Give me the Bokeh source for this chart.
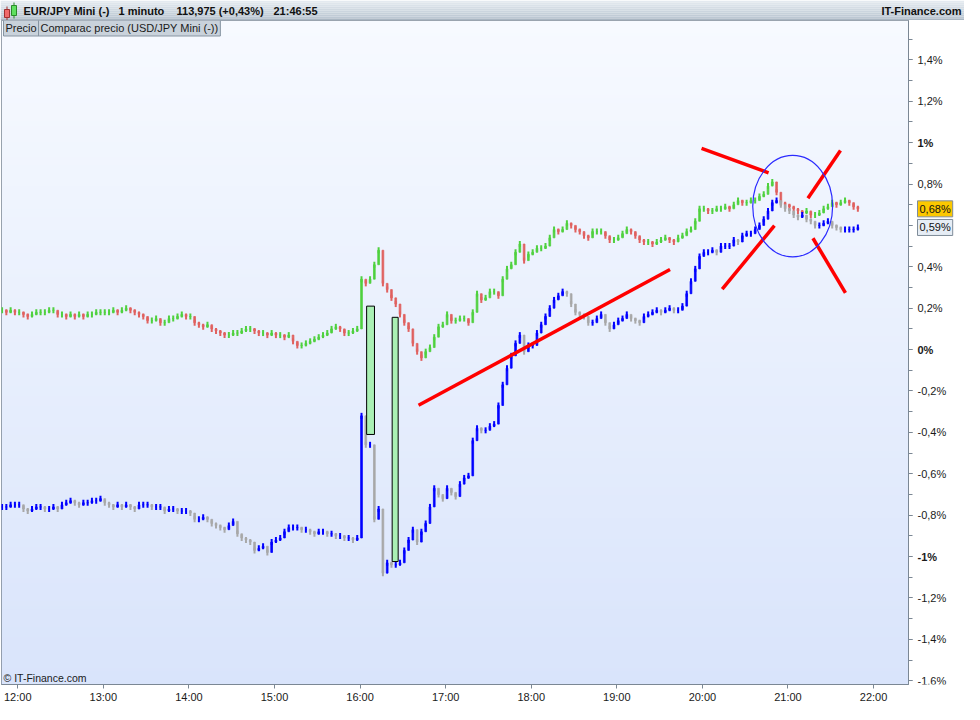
import math
import numpy as np
from bokeh.plotting import figure
from bokeh.layouts import column, row
from bokeh.models import (Range1d, FixedTicker, CustomJSTickFormatter, Label,
                          ColumnDataSource)
from bokeh.core.properties import value
from bokeh.embed import file_html
from bokeh.resources import INLINE

# ---------------- data ----------------
# 3-minute bars, minutes after 12:00 of the first bar
BAR_START_MIN = -11
BAR_STEP_MIN = 3

# EUR/JPY Mini, % change (closes of consecutive bars)
eur_jpy_pct = [
    0.19, 0.18, 0.19, 0.18, 0.18, 0.17, 0.16, 0.17, 0.18, 0.18,
    0.18, 0.19, 0.19, 0.17, 0.17, 0.16, 0.17, 0.16, 0.17, 0.16,
    0.17, 0.17, 0.18, 0.18, 0.18, 0.18, 0.19, 0.18, 0.19, 0.20,
    0.19, 0.18, 0.17, 0.16, 0.14, 0.14, 0.15, 0.13, 0.13, 0.15,
    0.15, 0.16, 0.17, 0.16, 0.16, 0.13, 0.12, 0.11, 0.12, 0.10,
    0.09, 0.08, 0.07, 0.07, 0.08, 0.08, 0.09, 0.10, 0.10, 0.09,
    0.08, 0.08, 0.07, 0.08, 0.07, 0.07, 0.06, 0.07, 0.04, 0.02,
    0.02, 0.03, 0.04, 0.05, 0.06, 0.07, 0.08, 0.10, 0.11, 0.10,
    0.08, 0.08, 0.09, 0.10, 0.34, 0.32, 0.34, 0.41, 0.48, 0.32,
    0.29, 0.25, 0.22, 0.17, 0.13, 0.10, 0.03, -0.01, -0.04, -0.01,
    0.01, 0.06, 0.11, 0.12, 0.17, 0.14, 0.14, 0.15, 0.15, 0.13,
    0.18, 0.27, 0.24, 0.25, 0.28, 0.28, 0.26, 0.34, 0.39, 0.41,
    0.47, 0.51, 0.43, 0.46, 0.47, 0.49, 0.49, 0.50, 0.54, 0.58,
    0.57, 0.58, 0.61, 0.60, 0.58, 0.57, 0.55, 0.54, 0.57, 0.57,
    0.57, 0.55, 0.53, 0.53, 0.54, 0.56, 0.58, 0.57, 0.55, 0.53,
    0.52, 0.52, 0.51, 0.52, 0.53, 0.54, 0.53, 0.52, 0.54, 0.55,
    0.57, 0.58, 0.62, 0.68, 0.68, 0.67, 0.67, 0.68, 0.68, 0.69,
    0.68, 0.70, 0.72, 0.71, 0.71, 0.72, 0.72, 0.74, 0.75, 0.79,
    0.81, 0.76, 0.71, 0.70, 0.69, 0.68, 0.67, 0.66, 0.67, 0.65,
    0.65, 0.66, 0.68, 0.69, 0.71, 0.70, 0.71, 0.72, 0.71, 0.69,
    0.68,
]

# USD/JPY Mini (comparison), % change
usd_jpy_pct = [
    -0.76, -0.76, -0.75, -0.75, -0.75, -0.77, -0.78, -0.77, -0.76, -0.76,
    -0.77, -0.77, -0.76, -0.77, -0.75, -0.74, -0.73, -0.74, -0.75, -0.74,
    -0.74, -0.73, -0.73, -0.72, -0.74, -0.75, -0.76, -0.75, -0.76, -0.75,
    -0.76, -0.77, -0.75, -0.75, -0.75, -0.76, -0.76, -0.76, -0.78, -0.77,
    -0.77, -0.78, -0.78, -0.78, -0.79, -0.82, -0.82, -0.81, -0.82, -0.84,
    -0.85, -0.86, -0.87, -0.85, -0.83, -0.89, -0.91, -0.92, -0.93, -0.97,
    -0.96, -0.95, -0.98, -0.93, -0.92, -0.91, -0.88, -0.86, -0.86, -0.86,
    -0.87, -0.87, -0.88, -0.89, -0.88, -0.88, -0.89, -0.89, -0.90, -0.90,
    -0.91, -0.91, -0.92, -0.91, -0.32, -0.46, -0.46, -0.82, -0.77, -1.08,
    -1.03, -1.04, -1.04, -1.03, -0.97, -0.92, -0.87, -0.93, -0.88, -0.84,
    -0.76, -0.67, -0.70, -0.72, -0.67, -0.69, -0.71, -0.65, -0.62, -0.61,
    -0.44, -0.38, -0.39, -0.39, -0.37, -0.36, -0.27, -0.17, -0.09, -0.03,
    0.03, 0.07, -0.01, 0.02, 0.02, 0.08, 0.12, 0.16, 0.20, 0.24,
    0.26, 0.28, 0.27, 0.22, 0.18, 0.17, 0.16, 0.13, 0.13, 0.15,
    0.17, 0.13, 0.10, 0.12, 0.14, 0.15, 0.17, 0.15, 0.14, 0.13,
    0.16, 0.17, 0.18, 0.19, 0.18, 0.19, 0.20, 0.19, 0.19, 0.21,
    0.27, 0.33, 0.39, 0.45, 0.47, 0.47, 0.48, 0.47, 0.50, 0.50,
    0.50, 0.53, 0.52, 0.55, 0.56, 0.56, 0.58, 0.60, 0.63, 0.67,
    0.71, 0.72, 0.70, 0.68, 0.67, 0.65, 0.64, 0.65, 0.63, 0.62,
    0.60, 0.60, 0.61, 0.62, 0.60, 0.59, 0.58, 0.58, 0.58, 0.58,
    0.59,
]

# two large green gap boxes (minutes after 12:00, %)
gap_left = [244.6, 262.5]
gap_right = [250.1, 266.7]
gap_top = [0.21, 0.156]
gap_bottom = [-0.41, -1.024]

# hand-drawn red trend lines (minutes after 12:00, %)
trend_x0 = [281.0, 479.4, 554.0, 493.9, 557.5]
trend_y0 = [-0.269, 0.972, 0.731, 0.292, 0.538]
trend_x1 = [457.3, 526.4, 576.8, 530.5, 580.3]
trend_y1 = [0.387, 0.854, 0.962, 0.599, 0.274]

# hand-drawn blue ellipse
circle_x = [543.3]
circle_y = [0.693]
circle_w = [56.0]
circle_h = [0.49]

x_ticks = [0, 60, 120, 180, 240, 300, 360, 420, 480, 540, 600]
x_tick_labels = ["12:00", "13:00", "14:00", "15:00", "16:00", "17:00",
                 "18:00", "19:00", "20:00", "21:00", "22:00"]

y_ticks = [-1.6, -1.4, -1.2, -1.0, -0.8, -0.6, -0.4, -0.2, 0.0,
           0.2, 0.4, 0.6, 0.8, 1.0, 1.2, 1.4]
y_tick_labels = ["-1,6%", "-1,4%", "-1,2%", "-1%", "-0,8%", "-0,6%", "-0,4%", "-0,2%", "0%",
                 "0,2%", "0,4%", "0,6%", "0,8%", "1%", "1,2%", "1,4%"]
y_tick_styles = ["normal", "normal", "normal", "bold", "normal", "normal", "normal", "normal",
                 "bold", "normal", "normal", "normal", "normal", "bold", "normal", "normal"]
y_minor_ticks = [-1.6, -1.5, -1.4, -1.3, -1.2, -1.1, -1.0, -0.9, -0.8, -0.7, -0.6,
                 -0.5, -0.4, -0.3, -0.2, -0.1, 0.0, 0.1, 0.2, 0.3, 0.4, 0.5, 0.6,
                 0.7, 0.8, 0.9, 1.0, 1.1, 1.2, 1.3, 1.4, 1.5]

last_values = [0.68, 0.59]
last_labels = ["0,68%", "0,59%"]

header_parts = ["EUR/JPY Mini (-)", "1 minuto", "113,975 (+0,43%)", "21:46:55"]
site_text = "IT-Finance.com"
legend_texts = ["Precio", "Comparac precio (USD/JPY Mini (-))"]
copyright_text = "\u00a9 IT-Finance.com"

# ---------------- layout constants ----------------
TOTAL_W = 964
HEADER_H = 20
FRAME_W, FRAME_H = 907, 664
LEFT, AXIS_W, BOTTOM = 1, 6, 20
SCALE_W = TOTAL_W - LEFT - FRAME_W - AXIS_W
FRAME_BOTTOM = HEADER_H + FRAME_H  # page y of frame bottom
FONT = "Liberation Sans"
GRAY = "#7b8794"
TEXT_DARK = "#1a1a1a"

X0, X1 = -11.4, 624.5
Y0, Y1 = -1.618, 1.59
y_range = Range1d(Y0, Y1)


def sx(px):
    return px - LEFT


def sy(py):
    return FRAME_BOTTOM - py


# ---------------- header strip ----------------
hdr = figure(width=TOTAL_W, height=HEADER_H, x_range=Range1d(0, TOTAL_W),
             y_range=Range1d(HEADER_H, 0), toolbar_location=None, output_backend="svg",
             x_axis_type=None, y_axis_type=None, min_border=0,
             outline_line_color=None, background_fill_color="white",
             border_fill_color="white")
hdr.grid.visible = False
band_colors = ["#e4eaf0", "#dfe6ec", "#dae2e9", "#d5dde5", "#d0d9e1",
               "#cbd5de", "#c6d1da", "#c1ccd6", "#bcc8d3", "#a9b6c2"]
band_top = [2 * i for i in range(len(band_colors))]
band_bottom = [2 * i + 2 for i in range(len(band_colors))]
hdr.quad(left=0, right=TOTAL_W, top=band_top, bottom=band_bottom,
         fill_color=band_colors, line_color=None)
# small candlestick icon
hdr.quad(left=[6, 13], right=[7, 14], top=[6, 2], bottom=[20, 18],
         fill_color=["#a03030", "#2a8a2a"], line_color=None)
hdr.quad(left=[4, 11], right=[9, 16], top=[9, 5], bottom=[17, 15],
         fill_color=["#f06a6a", "#5fe05f"], line_color=["#a03030", "#2a8a2a"])
header_x = [23, 118, 176, 273]
hdr.text(x=header_x, y=[10.5] * len(header_parts), text=header_parts, text_font=value(FONT),
         text_font_size="11px", text_font_style="bold", text_color="#111111",
         text_baseline="middle", text_align="left")
hdr.text(x=[TOTAL_W - 3], y=[10.5], text=[site_text], text_font=value(FONT),
         text_font_size="11px", text_font_style="bold", text_color="#111111",
         text_baseline="middle", text_align="right")

# ---------------- main chart ----------------
p = figure(frame_width=FRAME_W, frame_height=FRAME_H,
           x_range=Range1d(X0, X1), y_range=y_range,
           y_axis_location="right", toolbar_location=None, output_backend="svg",
           min_border_left=LEFT, min_border_right=AXIS_W,
           min_border_top=0, min_border_bottom=BOTTOM,
           background_fill_color="#eef3fd", border_fill_color="white",
           outline_line_color=GRAY, outline_line_width=1)
p.grid.visible = False

# background gradient of the plot area
n = 256
frac = np.linspace(0.0, 1.0, n)
top_rgb = np.array([247, 250, 255])
bot_rgb = np.array([217, 228, 251])
img = np.empty((n, 1), dtype=np.uint32)
view = img.view(dtype=np.uint8).reshape((n, 1, 4))
for ch in range(3):
    view[:, 0, ch] = np.round(bot_rgb[ch] + (top_rgb[ch] - bot_rgb[ch]) * frac).astype(np.uint8)
view[:, 0, 3] = 255
p.image_rgba(image=[img], x=X0, y=Y0, dw=X1 - X0, dh=Y1 - Y0, level="image")


def candle_source(closes, up_color, down_color):
    t = [BAR_START_MIN + BAR_STEP_MIN * i for i in range(len(closes))]
    opens = [closes[0]] + list(closes[:-1])
    top = [max(o, c) for o, c in zip(opens, closes)]
    bottom = [min(o, c) for o, c in zip(opens, closes)]
    colors = [up_color if c >= o else down_color for o, c in zip(opens, closes)]
    return ColumnDataSource(dict(t=t, close=list(closes), top=top, bottom=bottom, color=colors))


eur_src = candle_source(eur_jpy_pct, "#4fd13f", "#e0615f")
usd_src = candle_source(usd_jpy_pct, "#0000ff", "#a8a8a8")
for src in (eur_src, usd_src):
    p.vbar(x="t", width=1.2, top="top", bottom="bottom", fill_color="color",
           line_color="color", line_width=0.8, source=src)
    p.scatter(x="t", y="close", marker="dash", angle=math.pi / 2, size=6,
              line_color="color", line_width=2, source=src)

p.quad(left=gap_left, right=gap_right, top=gap_top, bottom=gap_bottom,
       fill_color="#aaf0b4", line_color="black", line_width=1)

p.segment(x0=trend_x0, y0=trend_y0, x1=trend_x1, y1=trend_y1,
          line_color="#ff0000", line_width=3.5)
p.ellipse(x=circle_x, y=circle_y, width=circle_w, height=circle_h,
          fill_alpha=0, line_color="#2b2bff", line_width=1.2)

# x axis
xa = p.xaxis[0]
xa.ticker = FixedTicker(ticks=x_ticks)
xa.formatter = CustomJSTickFormatter(args=dict(tick_values=x_ticks, tick_texts=x_tick_labels), code="""
const i = tick_values.findIndex((v) => Math.abs(v - tick) < 1e-6);
return i < 0 ? "" : tick_texts[i];
""")
xa.axis_line_color = GRAY
xa.major_tick_line_color = GRAY
xa.major_tick_out = 4
xa.major_tick_in = 0
xa.minor_tick_line_color = None
xa.major_label_standoff = 2
xa.major_label_text_font = FONT
xa.major_label_text_font_size = "11px"
xa.major_label_text_color = TEXT_DARK

# y axis (right): ticks only, labels are set in the scale strip beside it
ya = p.yaxis[0]
ya.ticker = FixedTicker(ticks=y_ticks, minor_ticks=y_minor_ticks)
ya.formatter = CustomJSTickFormatter(code="return '';")
ya.axis_line_color = GRAY
ya.major_tick_line_color = GRAY
ya.minor_tick_line_color = GRAY
ya.major_tick_out = 4
ya.major_tick_in = 0
ya.minor_tick_out = 4
ya.minor_tick_in = 0
ya.major_label_standoff = 0

# legend tabs
tab_x = [3, 38]
for tx, txt in zip(tab_x, legend_texts):
    p.add_layout(Label(x=sx(tx), y=sy(27.5), x_units="screen", y_units="screen",
                       text=txt, text_font=FONT, text_font_size="11px",
                       text_color=TEXT_DARK, text_baseline="middle", text_align="left",
                       background_fill_color="#c9d2db", border_line_color="#8795a2",
                       padding=2))

# copyright
p.add_layout(Label(x=2, y=7, x_units="screen", y_units="screen",
                   text=copyright_text, text_font=FONT, text_font_size="10.5px",
                   text_color=TEXT_DARK, text_baseline="middle", text_align="left"))

# ---------------- scale strip (tick labels + last values) ----------------
sc = figure(frame_width=SCALE_W, frame_height=FRAME_H, x_range=Range1d(0, SCALE_W),
            y_range=y_range, toolbar_location=None, output_backend="svg",
            x_axis_type=None, y_axis_type=None, min_border_left=0, min_border_right=0,
            min_border_top=0, min_border_bottom=BOTTOM, outline_line_color=None,
            background_fill_color="white", border_fill_color="white")
sc.grid.visible = False
lab_src = ColumnDataSource(dict(x=[3] * len(y_ticks), y=y_ticks, text=y_tick_labels,
                                style=y_tick_styles))
sc.text(x="x", y="y", text="text", text_font_style="style", source=lab_src,
        text_font=value(FONT), text_font_size="11px", text_color=TEXT_DARK,
        text_baseline="middle", text_align="left")
marker_bg = ["#fcc800", "#e6edf5"]
for v, lab, bg in zip(last_values, last_labels, marker_bg):
    sc.add_layout(Label(x=3, y=v, x_units="data", y_units="data",
                        text=lab, text_font=FONT, text_font_size="11px",
                        text_color="#111111", text_baseline="middle", text_align="left",
                        background_fill_color=bg, border_line_color="#7f8c99",
                        padding=2))

layout = column(hdr, row(p, sc, spacing=0), spacing=0)
open("out.html", "w").write(file_html(layout, INLINE))
